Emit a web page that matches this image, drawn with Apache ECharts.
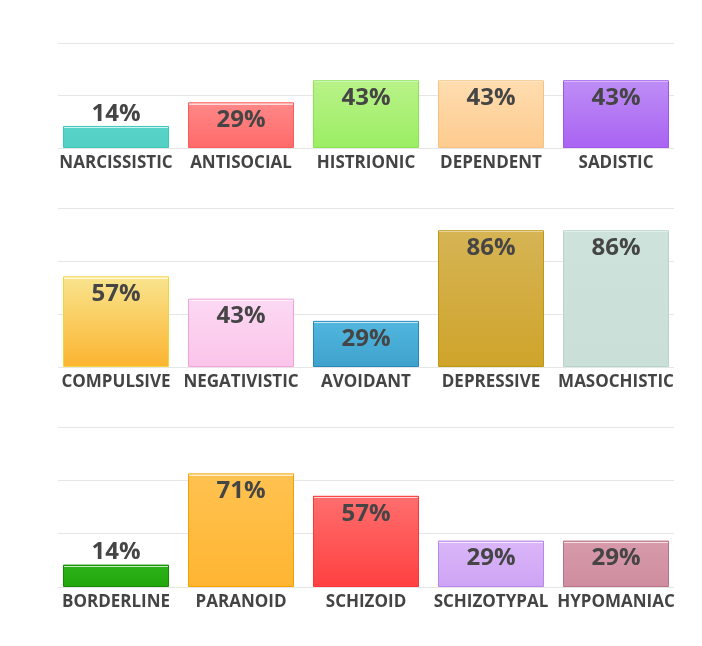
<!DOCTYPE html>
<html><head><meta charset="utf-8">
<script src="https://cdn.jsdelivr.net/npm/echarts@6/dist/echarts.min.js"></script>
<style>html,body{margin:0;padding:0;background:#fff}#c{width:702px;height:646px}</style>
</head><body><div id="c"></div>
<script>
// ---- data ----
const cats1 = ['NARCISSISTIC','ANTISOCIAL','HISTRIONIC','DEPENDENT','SADISTIC'];
const vals1 = [14, 29, 43, 43, 43];
const cats2 = ['COMPULSIVE','NEGATIVISTIC','AVOIDANT','DEPRESSIVE','MASOCHISTIC'];
const vals2 = [57, 43, 29, 86, 86];
const cats3 = ['BORDERLINE','PARANOID','SCHIZOID','SCHIZOTYPAL','HYPOMANIAC'];
const vals3 = [14, 71, 57, 29, 29];
const axisMax1 = 66.667, axisMax2 = 100, axisMax3 = 100;
const tickStep = 33.333;

// ---- styles: [topColor, bottomColor, border] ----
const colors1 = [['#58d3c7','#52cfc3','#3cc9bb'],['#ff8787','#ff6a6a','#ff5a5a'],['#b8f287','#9bee63','#88e650'],['#ffdcae','#fdcb8f','#f8c27d'],['#bd8cf6','#a963f2','#9d55ee']];
const colors2 = [['#f9e38c','#fbb42f','#f5d33f'],['#fcd8f3','#fbc4ea','#f2a3dc'],['#51b6de','#3ea2cd','#2589c0'],['#d6b454','#cfa42b','#bf980c'],['#cce2da','#c9dfd7','#b6d6ca']];
const colors3 = [['#2db119','#21a70c','#178a05'],['#ffc250','#ffb532','#f5a200'],['#ff6d6d','#ff4040','#ff3535'],['#dab6f8','#cea3f5','#b888ef'],['#d69aaa','#cf8d9f','#b87486']];

function mixWhite(hex, t){
  const n=parseInt(hex.slice(1),16);
  const r=(n>>16)&255,g=(n>>8)&255,b=n&255;
  const f=c=>Math.round(c+(255-c)*t);
  return 'rgb('+f(r)+','+f(g)+','+f(b)+')';
}

const panels = [
  {cats:cats1, vals:vals1, cols:colors1, max:axisMax1, top:43, h:105},
  {cats:cats2, vals:vals2, cols:colors2, max:axisMax2, top:208, h:159},
  {cats:cats3, vals:vals3, cols:colors3, max:axisMax3, top:427, h:160}
];

const grid=[], xAxis=[], yAxis=[], series=[];
panels.forEach((p,i)=>{
  grid.push({left:58, width:616, top:p.top, height:p.h});
  grid.push({left:53.5, width:625, top:p.top, height:p.h});
  const gi=i*2;
  xAxis.push({gridIndex:gi, type:'category', data:p.cats, show:false});
  yAxis.push({gridIndex:gi, type:'value', min:0, max:p.max, interval:tickStep,
    axisLabel:{show:false}, axisTick:{show:false}, axisLine:{show:false},
    splitLine:{show:true, lineStyle:{color:'#e6e6e6', width:1}}});
  xAxis.push({gridIndex:gi+1, type:'category', data:p.cats,
    axisLine:{show:false}, axisTick:{show:false},
    axisLabel:{interval:0, margin:7, color:'#444', fontFamily:'Open Sans', fontWeight:'bold', fontSize:17}});
  yAxis.push({gridIndex:gi+1, type:'value', min:0, max:p.max, show:false, splitLine:{show:false}});
  const pxPer = p.h/p.max;
  series.push({type:'bar', xAxisIndex:gi+1, yAxisIndex:gi+1, barWidth:106, silent:true,
    data:p.vals.map((v,k)=>{
      const c=p.cols[k];
      const hpx=v*pxPer;
      const o1=1/hpx, o2=2.2/hpx;
      const inside = hpx>32;
      return {value:v,
        itemStyle:{borderColor:c[2], borderWidth:1,
          color:new echarts.graphic.LinearGradient(0,0,0,1,[
            {offset:0,color:c[0]},{offset:o1,color:c[0]},
            {offset:o1,color:mixWhite(c[0],0.7)},{offset:o2,color:mixWhite(c[0],0.7)},
            {offset:o2,color:c[0]},{offset:1,color:c[1]}])},
        label:{show:true, position: inside?'insideTop':'top', distance: inside?6:0,
          formatter:'{c}%', color:'#454545', fontFamily:'Open Sans', fontWeight:'bold', fontSize:24}};
    })});
});

const chart = echarts.init(document.getElementById('c'), null, {renderer:'canvas'});
chart.setOption({animation:false, backgroundColor:'#fff', grid, xAxis, yAxis, series});
</script>
</body></html>
